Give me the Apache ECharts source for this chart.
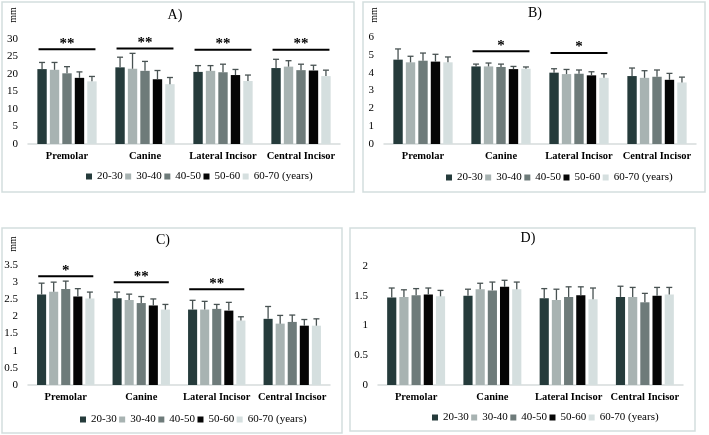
<!DOCTYPE html>
<html><head><meta charset="utf-8">
<script src="https://cdn.jsdelivr.net/npm/echarts@6/dist/echarts.min.js"></script>
<style>html,body{margin:0;padding:0;background:#fff}#c{width:709px;height:435px}</style>
</head><body><div id="c"></div>
<script>
// ---- data ----
var categories = ["Premolar", "Canine", "Lateral Incisor", "Central Incisor"];
var groups = ["20-30", "30-40", "40-50", "50-60", "60-70"];
var groupColors = ["#253b3b", "#a8b3b2", "#6e7b7a", "#050505", "#d5dfdf"];

// Panel A (mm)
var A_mean = [
  [21.4, 21.9, 20.6, 21.7],
  [21.2, 21.5, 20.9, 22.1],
  [20.2, 20.9, 20.5, 21.1],
  [18.9, 18.5, 19.7, 21.0],
  [17.9, 17.1, 18.0, 19.4]
];
var A_sd = [
  [1.9, 2.9, 1.8, 2.5],
  [2.1, 4.4, 1.5, 1.7],
  [1.9, 2.7, 2.3, 1.7],
  [1.7, 2.5, 1.6, 1.5],
  [1.4, 1.9, 1.7, 1.7]
];
var A_sig = ["**", "**", "**", "**"];
var A_sigY = [27.1, 27.3, 26.9, 26.9];
var A_ticks = [0, 30, 5];

// Panel B
var B_mean = [
  [4.73, 4.35, 4.00, 3.81],
  [4.58, 4.35, 3.92, 3.71],
  [4.67, 4.32, 3.94, 3.77],
  [4.62, 4.20, 3.85, 3.60],
  [4.58, 4.22, 3.71, 3.45]
];
var B_sd = [
  [0.60, 0.13, 0.22, 0.45],
  [0.34, 0.19, 0.26, 0.40],
  [0.43, 0.16, 0.21, 0.38],
  [0.41, 0.15, 0.20, 0.36],
  [0.30, 0.10, 0.23, 0.30]
];
var B_sig = ["", "*", "*", ""];
var B_sigY = [null, 5.2, 5.1, null];
var B_ticks = [0, 6, 1];

// Panel C
var C_mean = [
  [2.64, 2.53, 2.20, 1.93],
  [2.72, 2.48, 2.20, 1.79],
  [2.80, 2.39, 2.22, 1.84],
  [2.58, 2.32, 2.17, 1.73],
  [2.52, 2.20, 1.88, 1.73]
];
var C_sd = [
  [0.33, 0.18, 0.27, 0.36],
  [0.28, 0.17, 0.24, 0.24],
  [0.23, 0.19, 0.13, 0.20],
  [0.23, 0.19, 0.24, 0.18],
  [0.19, 0.15, 0.11, 0.20]
];
var C_sig = ["*", "**", "**", ""];
var C_sigY = [3.17, 3.0, 2.79, null];
var C_ticks = [0, 3.5, 0.5];

// Panel D
var D_mean = [
  [1.47, 1.50, 1.46, 1.48],
  [1.48, 1.61, 1.43, 1.48],
  [1.51, 1.59, 1.48, 1.39],
  [1.52, 1.65, 1.51, 1.50],
  [1.49, 1.61, 1.44, 1.52]
];
var D_sd = [
  [0.16, 0.11, 0.16, 0.18],
  [0.12, 0.10, 0.18, 0.16],
  [0.11, 0.14, 0.17, 0.15],
  [0.11, 0.11, 0.14, 0.14],
  [0.10, 0.12, 0.19, 0.12]
];
var D_sig = ["", "", "", ""];
var D_sigY = [null, null, null, null];
var D_ticks = [0, 2, 0.5];

var titles = ["A)", "B)", "C)", "D)"];
var unitLabel = "mm";
var legendSuffix = " (years)";

// ---- layout / styling ----
var SERIF = "'Liberation Serif', serif";
var CAT_GAP = 0.24, BAR_GAP = 0.33, N = groups.length;

var panels = [
  {mean: A_mean, sd: A_sd, sig: A_sig, sigY: A_sigY, ticks: A_ticks,
   grid: {left: 28, top: 39, width: 312, height: 105}, legend: {left: 86, top: 171},
   box: [2, 2, 352, 190], title: [175, 15], unit: [13, 15]},
  {mean: B_mean, sd: B_sd, sig: B_sig, sigY: B_sigY, ticks: B_ticks,
   grid: {left: 384, top: 37, width: 312, height: 107}, legend: {left: 446, top: 172},
   box: [363, 2, 342, 190], title: [535, 13], unit: [374, 15]},
  {mean: C_mean, sd: C_sd, sig: C_sig, sigY: C_sigY, ticks: C_ticks,
   grid: {left: 28, top: 265, width: 302, height: 120}, legend: {left: 80, top: 414},
   box: [2, 228, 340, 205], title: [163, 240], unit: [13, 244]},
  {mean: D_mean, sd: D_sd, sig: D_sig, sigY: D_sigY, ticks: D_ticks,
   grid: {left: 378, top: 266, width: 305, height: 119}, legend: {left: 432, top: 412},
   box: [350, 228, 345, 203], title: [528, 238], unit: null}
];

function groupGeom(band, gi) {
  var span = band * (1 - CAT_GAP);
  var w = span / (N + (N - 1) * BAR_GAP);
  return {w: w, span: span, off: -span / 2 + gi * w * (1 + BAR_GAP) + w / 2};
}

var grids = [], xAxes = [], yAxes = [], series = [], legends = [], graphics = [];

panels.forEach(function (p, pi) {
  grids.push(p.grid);
  xAxes.push({
    type: 'category', gridIndex: pi, data: categories,
    axisLine: {lineStyle: {color: '#d6dbdb', width: 1.5}},
    axisTick: {show: false},
    axisLabel: {color: '#000', fontFamily: SERIF, fontWeight: 'bold', fontSize: 10.5, margin: 7, interval: 0}
  });
  yAxes.push({
    type: 'value', gridIndex: pi, min: p.ticks[0], max: p.ticks[1], interval: p.ticks[2],
    splitLine: {show: false}, axisLine: {show: false}, axisTick: {show: false},
    axisLabel: {color: '#000', fontFamily: SERIF, fontSize: 11, margin: 10}
  });
  legends.push({
    left: p.legend.left, top: p.legend.top, data: groups.slice(), padding: 0,
    icon: 'rect', itemWidth: 6, itemHeight: 6, itemGap: 2.5,
    selectedMode: false,
    textStyle: {fontFamily: SERIF, fontSize: 11, color: '#000'},
    formatter: function (n) { return n === groups[N - 1] ? n + legendSuffix : n; }
  });
  groups.forEach(function (g, gi) {
    series.push({
      type: 'bar', name: g, xAxisIndex: pi, yAxisIndex: pi,
      data: p.mean[gi], barCategoryGap: (CAT_GAP * 100) + '%', barGap: (BAR_GAP * 100) + '%',
      itemStyle: {color: groupColors[gi]}, silent: true
    });
    var errData = p.mean[gi].map(function (m, ci) { return [ci, m, p.sd[gi][ci]]; });
    series.push({
      type: 'custom', xAxisIndex: pi, yAxisIndex: pi, silent: true, z: 3,
      data: errData, encode: {x: 0, y: 1},
      renderItem: (function (gIdx) {
        return function (params, api) {
          var base = api.coord([api.value(0), api.value(1)]);
          var top = api.coord([api.value(0), api.value(1) + api.value(2)]);
          var band = api.size([1, 0])[0];
          var gg = groupGeom(band, gIdx);
          var cx = base[0] + gg.off;
          var st = {stroke: '#485252', lineWidth: 1.3};
          return {type: 'group', children: [
            {type: 'line', shape: {x1: cx, y1: base[1], x2: cx, y2: top[1]}, style: st},
            {type: 'line', shape: {x1: cx - 3, y1: top[1], x2: cx + 3, y2: top[1]}, style: st}
          ]};
        };
      })(gi)
    });
  });
  var sigData = [];
  p.sig.forEach(function (s, ci) { if (s) sigData.push([ci, p.sigY[ci]]); });
  if (sigData.length) {
    series.push({
      type: 'custom', xAxisIndex: pi, yAxisIndex: pi, silent: true, z: 4,
      data: sigData, encode: {x: 0, y: 1},
      renderItem: (function (sig) {
        return function (params, api) {
          var ci = api.value(0);
          var c = api.coord([ci, api.value(1)]);
          var band = api.size([1, 0])[0];
          var span = band * (1 - CAT_GAP) * 0.96;
          return {type: 'group', children: [
            {type: 'line', shape: {x1: c[0] - span / 2, y1: c[1], x2: c[0] + span / 2, y2: c[1]},
             style: {stroke: '#000', lineWidth: 2}},
            {type: 'text', style: {text: sig[ci], x: c[0], y: c[1] + 2, textAlign: 'center',
             textVerticalAlign: 'bottom', font: 'bold 15px ' + SERIF, fill: '#000'}}
          ]};
        };
      })(p.sig)
    });
  }
  graphics.push({type: 'rect', shape: {x: p.box[0], y: p.box[1], width: p.box[2], height: p.box[3]},
    style: {fill: 'none', stroke: '#d3dede', lineWidth: 1.5}, silent: true});
  graphics.push({type: 'text', x: p.title[0], y: p.title[1],
    style: {text: titles[pi], font: '14px ' + SERIF, fill: '#000', textAlign: 'center', textVerticalAlign: 'middle'}});
  if (p.unit) {
    graphics.push({type: 'text', x: p.unit[0], y: p.unit[1], rotation: Math.PI / 2,
      style: {text: unitLabel, font: '10px ' + SERIF, fill: '#000', textAlign: 'center', textVerticalAlign: 'middle'}});
  }
});

var chart = echarts.init(document.getElementById('c'), null, {renderer: 'canvas'});
chart.setOption({
  animation: false,
  backgroundColor: '#fff',
  grid: grids, xAxis: xAxes, yAxis: yAxes, legend: legends,
  series: series, graphic: graphics
});
</script></body></html>
